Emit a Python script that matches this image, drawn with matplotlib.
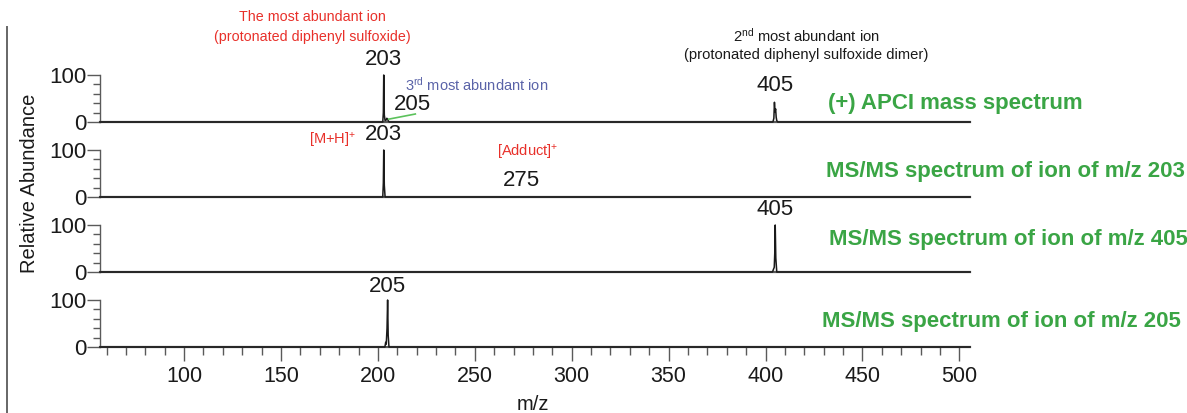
import matplotlib

matplotlib.use("Agg")
import matplotlib.pyplot as plt
from matplotlib.lines import Line2D
from matplotlib.ticker import FixedLocator

plt.rcParams["font.family"] = ["Liberation Sans", "DejaVu Sans"]
plt.rcParams["mathtext.fontset"] = "custom"
plt.rcParams["mathtext.rm"] = "Liberation Sans"
plt.rcParams["mathtext.it"] = "Liberation Sans:italic"
plt.rcParams["mathtext.bf"] = "Liberation Sans:bold"

# ---------------------------------------------------------------------------
# data
# ---------------------------------------------------------------------------
mz_range = (56.6, 505.5)

apci_mz = [56.6, 202.5, 202.8, 203.0, 203.3, 203.7, 204.2, 204.6, 205.0, 205.4, 205.9,
           403.8, 404.3, 404.6, 404.9, 405.2, 405.5, 405.8, 406.3, 505.5]
apci_int = [0, 0, 20, 100, 15, 3, 4, 8, 6, 2, 0,
            0, 8, 42, 22, 28, 10, 3, 0, 0]

ms203_mz = [56.6, 202.5, 202.8, 203.0, 203.3, 203.7, 505.5]
ms203_int = [0, 0, 30, 100, 25, 0, 0]

ms405_mz = [56.6, 403.6, 404.1, 404.5, 404.8, 405.0, 405.3, 405.8, 505.5]
ms405_int = [0, 0, 6, 10, 45, 100, 30, 0, 0]

ms205_mz = [56.6, 203.6, 204.0, 204.3, 204.7, 205.0, 205.3, 205.7, 505.5]
ms205_int = [0, 0, 10, 6, 40, 100, 25, 0, 0]

spectra_mz = [apci_mz, ms203_mz, ms405_mz, ms205_mz]
spectra_int = [apci_int, ms203_int, ms405_int, ms205_int]

panel_titles = [
    "(+) APCI mass spectrum",
    "MS/MS spectrum of ion of m/z 203",
    "MS/MS spectrum of ion of m/z 405",
    "MS/MS spectrum of ion of m/z 205",
]

# peak labels per panel: (text, m/z, height)
peak_labels = [
    [("203", 203, 132), ("205", 218, 38), ("405", 405, 77)],
    [("203", 203, 132), ("275", 274, 36)],
    [("405", 405, 132)],
    [("205", 205, 128)],
]

x_major = [100, 150, 200, 250, 300, 350, 400, 450, 500]
x_minor = list(range(60, 510, 10))

# ---------------------------------------------------------------------------
# figure
# ---------------------------------------------------------------------------
W, H = 1187, 413
fig = plt.figure(figsize=(W / 100, H / 100), dpi=100)

green = "#3aa545"
red = "#e8302a"
ink = "#1a1a1a"
spine_col = "#5a5a5a"

title_y_px = [104, 171, 240, 322]
title_x_px = [828, 826, 829, 822]

axes = []
for k in range(4):
    base_px = 122 + 75 * k
    ax = fig.add_axes([100 / W, 1 - base_px / H, 870 / W, 47 / H])
    ax.set_xlim(*mz_range)
    ax.set_ylim(0, 100)
    ax.plot(spectra_mz[k], spectra_int[k], color=ink, lw=1.1,
            clip_on=False, zorder=4)

    for side in ("top", "right"):
        ax.spines[side].set_visible(False)
    ax.spines["left"].set_color(spine_col)
    ax.spines["left"].set_linewidth(1.0)
    ax.spines["bottom"].set_color(spine_col)
    ax.spines["bottom"].set_linewidth(1.6)

    ax.yaxis.set_major_locator(FixedLocator([0, 100]))
    ax.yaxis.set_minor_locator(FixedLocator([20, 40, 60, 80]))
    ax.tick_params(axis="y", which="major", length=9.5, width=1.0, color=spine_col,
                   labelsize=16, pad=0.5, labelcolor=ink)
    ax.tick_params(axis="y", which="minor", length=5, width=1.0, color=spine_col)

    if k < 3:
        ax.set_xticks([])
    else:
        ax.xaxis.set_major_locator(FixedLocator(x_major))
        ax.xaxis.set_minor_locator(FixedLocator(x_minor))
        ax.tick_params(axis="x", which="major", length=10, width=1.0, color=spine_col,
                       labelsize=15.5, pad=4, labelcolor=ink)
        ax.tick_params(axis="x", which="minor", length=6, width=1.0, color=spine_col)

    for txt, xm, yv in peak_labels[k]:
        ax.text(xm, yv, txt, ha="center", va="center", fontsize=16,
                color=ink, clip_on=False)

    fig.text(title_x_px[k] / W, 1 - title_y_px[k] / H, panel_titles[k],
             ha="left", va="center", fontsize=16, fontweight="bold", color=green)
    axes.append(ax)

# ---------------------------------------------------------------------------
# annotations
# ---------------------------------------------------------------------------
ax1, ax2 = axes[0], axes[1]
ax1.text(166, 223, "The most abundant ion", ha="center", va="center",
         fontsize=10.3, color=red, clip_on=False)
ax1.text(166, 181, "(protonated diphenyl sulfoxide)", ha="center", va="center",
         fontsize=10.3, color=red, clip_on=False)
ax1.text(421, 183, r"2$^{\rm nd}$ most abundant ion", ha="center", va="center",
         fontsize=10.6, color=ink, clip_on=False)
ax1.text(421, 143, "(protonated diphenyl sulfoxide dimer)", ha="center", va="center",
         fontsize=10.6, color=ink, clip_on=False)
ax1.text(251, 79, r"3$^{\rm rd}$ most abundant ion", ha="center", va="center",
         fontsize=10.5, color="#5a63a8", clip_on=False)
ax1.plot([205.5, 219.3], [6, 17], color="#5cc25c", lw=1.2, clip_on=False, zorder=5)

ax2.text(188.5, 121, r"[M+H]$^{+}$", ha="right", va="center", fontsize=10.5,
         color=red, clip_on=False)
ax2.text(277, 94, r"[Adduct]$^{+}$", ha="center", va="center", fontsize=10.5,
         color=red, clip_on=False)

fig.text(30 / W, 1 - 183 / H, "Relative Abundance", rotation=90, ha="center",
         va="center", fontsize=14.5, color=ink)
fig.text(533 / W, 1 - 404 / H, "m/z", ha="center", va="center", fontsize=14.5,
         color=ink)

fig.add_artist(Line2D([7 / W, 7 / W], [1 - 27 / H, 0], transform=fig.transFigure,
                      color="#666666", lw=1.4))

fig.savefig("out.png", dpi=100)
